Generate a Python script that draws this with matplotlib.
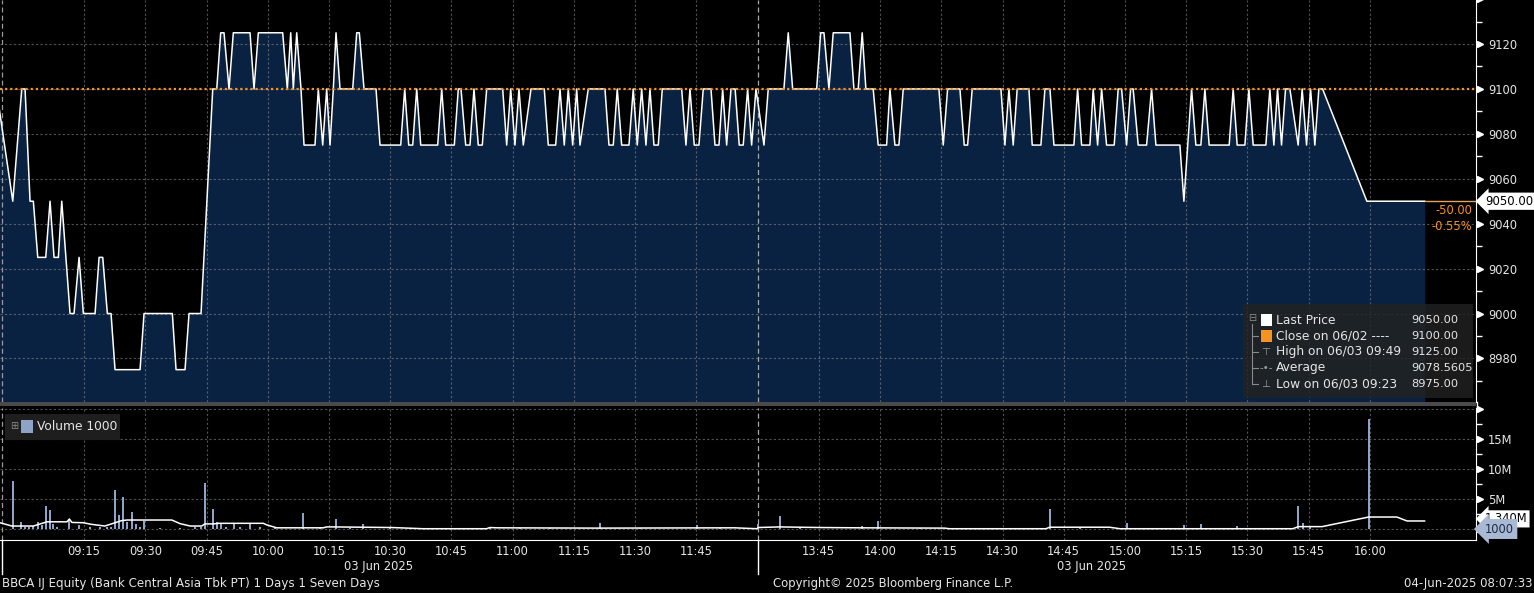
import numpy as np
import matplotlib.pyplot as plt
from matplotlib.ticker import FixedLocator, FixedFormatter, MultipleLocator, FuncFormatter
from matplotlib.transforms import blended_transform_factory
from matplotlib.patches import Rectangle
from matplotlib.lines import Line2D

# trades: minutes after 09:00 (morning) and after 13:30 (afternoon)
am_t = [-6.5, -2.47, -0.27, 0.54, 1.76, 2.57, 3.65, 5.61, 6.66, 7.64, 8.70, 9.53, 11.56, 12.54,
        13.77, 14.82, 17.69, 18.67, 19.57, 20.70, 21.60, 22.58, 28.71, 29.69, 36.62, 37.53,
        39.73, 40.71, 43.65, 46.52, 47.50, 48.47, 49.28, 50.51, 51.56, 55.65, 56.63, 57.69,
        63.66, 64.79, 65.62, 66.26, 67.09, 68.14, 68.88, 71.57, 72.38, 73.46, 74.44, 75.25,
        76.06, 76.72, 77.70, 80.81, 81.79, 82.43, 83.58, 86.52, 87.50, 92.57, 93.55, 94.53,
        95.51, 96.49, 97.47, 101.63, 102.61, 103.59, 105.70, 106.68, 107.34, 108.49, 109.54,
        110.52, 111.57, 112.55, 113.63, 117.55, 118.53, 119.51, 120.56, 121.54, 122.60,
        124.49, 127.74, 128.72, 130.53, 131.59, 132.64, 133.62, 134.70, 135.68, 136.49,
        138.52, 142.61, 143.59, 144.64, 145.62, 146.70, 148.49, 149.54, 150.52, 151.60,
        152.65, 153.63, 154.61, 155.67, 156.65, 161.40, 162.45, 163.43, 164.48, 165.63,
        166.69, 168.58, 169.56, 170.54, 171.44, 172.42, 173.48, 174.50, 175.50, 176.48,
        177.56, 178.54, 179.60]
am_price = [9100, 9050, 9100, 9100, 9050, 9050, 9025, 9025, 9050, 9025, 9025, 9050, 9000, 9000,
            9025, 9000, 9000, 9025, 9025, 9000, 9000, 8975, 8975, 9000, 9000, 8975,
            8975, 9000, 9000, 9100, 9100, 9125, 9125, 9100, 9125, 9125, 9100, 9125,
            9125, 9100, 9125, 9100, 9125, 9100, 9075, 9075, 9100, 9075, 9100, 9075,
            9100, 9125, 9100, 9100, 9125, 9125, 9100, 9100, 9075, 9075, 9100, 9075,
            9075, 9100, 9075, 9075, 9100, 9075, 9075, 9100, 9100, 9075, 9075,
            9100, 9075, 9075, 9100, 9100, 9075, 9100, 9075, 9100, 9075,
            9100, 9100, 9075, 9075, 9100, 9075, 9100, 9075, 9100, 9075,
            9100, 9100, 9075, 9075, 9100, 9075, 9075, 9100, 9075, 9100,
            9075, 9100, 9075, 9075, 9100, 9100, 9075, 9100, 9075, 9075,
            9100, 9100, 9075, 9075, 9100, 9075, 9100, 9100, 9075, 9075,
            9100, 9075, 9100]
pm_t = [1.56, 2.61, 6.45, 7.51, 8.59, 14.47, 15.45, 16.26, 17.48, 18.53, 22.62, 23.60, 24.65,
        25.63, 26.53, 28.32, 29.55, 31.61, 32.42, 33.64, 34.62, 35.68, 44.42, 45.48, 46.55,
        49.57, 50.62, 51.45, 52.58, 59.61, 60.59, 61.57, 62.62, 63.60, 66.47, 67.28, 69.41,
        70.39, 71.62, 72.60, 77.49, 78.40, 79.38, 81.41, 82.22, 83.30, 84.28, 85.50, 87.36,
        88.34, 89.17, 90.40, 91.38, 92.01, 93.24, 95.30, 96.52, 97.58, 103.46, 104.44,
        106.32, 107.37, 108.60, 109.58, 110.63, 115.53, 116.51, 117.49, 119.38, 120.36,
        121.41, 124.52, 125.50, 126.48, 127.38, 128.36, 129.34, 130.40, 132.43, 133.41,
        134.49, 135.47, 136.52, 137.50, 138.41, 149.26, 163.46]
pm_price = [9075, 9100, 9100, 9125, 9100, 9100, 9125, 9125, 9100, 9125, 9125, 9100, 9100,
            9125, 9100, 9100, 9075, 9075, 9100, 9075, 9075, 9100, 9100, 9075, 9100,
            9100, 9075, 9075, 9100, 9100, 9075, 9100, 9075, 9100, 9100, 9075, 9075,
            9100, 9100, 9075, 9075, 9100, 9075, 9075, 9100, 9075, 9100, 9075, 9075,
            9100, 9100, 9075, 9100, 9100, 9075, 9075, 9100, 9075, 9075, 9050,
            9100, 9075, 9075, 9100, 9075, 9075, 9100, 9075, 9075, 9100,
            9075, 9075, 9100, 9075, 9100, 9075, 9100, 9100, 9075, 9100,
            9075, 9100, 9075, 9100, 9100, 9050, 9050]

# volume bars (millions of shares)
am_vol_t = [-2.5, -0.5, 0.5, 1.5, 2.5, 3.6, 4.6, 5.6, 6.7, 7.5, 8.4, 11.4, 13.8, 16.5, 18.9,
            20.6, 21.6, 22.6, 23.6, 24.6, 25.6, 26.8, 27.7, 28.7, 29.7, 33.6, 38.5, 42.2, 43.6,
            44.6, 46.5, 47.5, 48.5, 49.8, 51.8, 53.2, 55.6, 58.1, 61.8, 68.6, 72.8, 76.6, 80.1,
            83.4, 89.9, 99.7, 107.1, 114.4, 121.8, 129.1, 141.4, 151.2, 165.1, 170.8]
am_vol = [8.0, 1.1, 0.4, 0.3, 0.5, 1.2, 0.6, 3.9, 3.2, 0.8, 0.3, 1.6, 0.7, 0.3, 0.3,
          0.4, 0.3, 6.5, 2.3, 5.3, 1.1, 2.8, 0.9, 0.4, 1.4, 0.2, 0.2, 0.3, 0.4,
          7.6, 3.4, 1.2, 0.9, 0.4, 0.8, 0.4, 0.8, 0.3, 0.2, 2.7, 0.3, 1.7, 0.2,
          0.8, 0.2, 0.2, 0.2, 0.2, 0.2, 0.2, 1.0, 0.2, 0.6, 0.2]
pm_vol_t = [0.2, 5.4, 10.4, 25.6, 29.5, 39.8, 54.5, 71.6, 78.9, 90.5, 98.6, 104.4, 108.6,
            117.4, 123.1, 132.5, 133.5, 135.3, 149.7]
pm_vol = [0.8, 2.2, 0.3, 0.5, 1.4, 0.2, 0.2, 3.4, 0.2, 1.0, 0.2, 0.6, 0.8,
          0.5, 0.2, 3.8, 1.0, 0.3, 18.4]

# average volume line
am_avg_t = [-5.6, -2.7, 2.6, 5.9, 10.8, 11.4, 12.0, 14.8, 16.6, 20.1, 22.6, 24.2, 25.5, 36.5,
            38.5, 41.0, 43.8, 44.6, 46.7, 47.9, 58.9, 59.7, 62.2, 73.6, 74.4, 76.1, 90.4,
            98.1, 113.6, 114.4, 116.1, 141.4, 174.4, 179.8]
am_avg = [1.05, 0.5, 0.5, 1.2, 1.2, 1.67, 1.1, 1.05, 0.8, 0.5, 1.05, 1.4, 1.5, 1.5,
          0.9, 0.5, 0.5, 0.85, 0.85, 0.95, 0.95, 0.7, 0.2, 0.2, 0.35, 0.35, 0.25,
          0.05, 0.05, 0.25, 0.2, 0.15, 0.2, 0.05]
pm_avg_t = [0.2, 5.4, 15.2, 25.0, 45.8, 47.0, 70.6, 71.6, 86.2, 88.8, 131.1, 132.5, 138.3,
            149.7, 156.6, 159.1, 163.4]
pm_avg = [0.25, 0.35, 0.25, 0.2, 0.15, 0.05, 0.05, 0.3, 0.3, 0.05, 0.05, 0.4, 0.4,
          2.0, 2.0, 1.34, 1.34]

am_labels = ["09:15", "09:30", "09:45", "10:00", "10:15", "10:30", "10:45", "11:00",
             "11:15", "11:30", "11:45"]
pm_labels = ["13:45", "14:00", "14:15", "14:30", "14:45", "15:00", "15:15", "15:30",
             "15:45", "16:00"]
price_ticks = [8980, 9000, 9020, 9040, 9060, 9080, 9100, 9120, 9140]
vol_ticks = [0, 5, 10, 15, 20]

prev_close = 9100
last_price = 9050
legend_names = ["Last Price", "Close on 06/02 ----", "High on 06/03 09:49", "Average",
                "Low on 06/03 09:23"]
legend_values = ["9050.00", "9100.00", "9125.00", "9078.5605", "8975.00"]

NAVY = "#0a2242"
ORANGE = "#f7931e"
TXT = "#e6e6e6"
VOLC = "#8ea3c7"
AM_LEN = 180  # morning session length, afternoon starts right after


def to_x(hhmm):
    h, m = map(int, hhmm.split(":"))
    mins = h * 60 + m
    return mins - 540 if mins <= 720 else mins - 810 + AM_LEN


def fx(px):
    return px / 1534


def fy(py):
    return 1 - py / 593


x_price = np.array(am_t + [AM_LEN + t for t in pm_t])
y_price = np.array(am_price + pm_price)
x_vol = np.array(am_vol_t + [AM_LEN + t for t in pm_vol_t])
y_vol = np.array(am_vol + pm_vol)
x_avg = np.array(am_avg_t + [AM_LEN + t for t in pm_avg_t])
y_avg = np.array(am_avg + pm_avg)
xlabels = am_labels + pm_labels
xticks = [to_x(s) for s in xlabels]
x0, x1 = -5.6, 356
start_line = -5.1

fig = plt.figure(figsize=(15.34, 5.93), dpi=100, facecolor="black")
ax1 = fig.add_axes([0, fy(402), fx(1476), 402 / 593])
ax2 = fig.add_axes([0, fy(540), fx(1476), 132 / 593])

for ax in (ax1, ax2):
    ax.set_facecolor("black")
    ax.set_xlim(x0, x1)
    for s in ("top", "left", "bottom"):
        ax.spines[s].set_visible(False)
    ax.spines["right"].set_color("white")
    ax.xaxis.set_major_locator(FixedLocator(xticks))
    ax.xaxis.set_major_formatter(FixedFormatter(xlabels))
    ax.yaxis.tick_right()
    ax.tick_params(axis="x", length=0)
    ax.tick_params(axis="y", which="major", length=0, labelcolor=TXT, labelsize=8.3, pad=8.5)
    ax.tick_params(axis="y", which="minor", length=4, color="white", width=1, right=True, left=False)
    ax.set_axisbelow("line")
    ax.grid(True, color="#8a8a8a", ls=(0, (2, 2)), lw=0.8, alpha=0.6)
    ax.axvline(start_line, color="#9a9a9a", ls=(0, (4, 2.5)), lw=0.9, zorder=2)
    ax.axvline(AM_LEN, color="#a8a8a8", ls=(0, (4, 2.5)), lw=0.9, zorder=2)

# --- price panel
ax1.set_ylim(8960.6, 9139.6)
ax1.yaxis.set_major_locator(FixedLocator(price_ticks))
ax1.yaxis.set_minor_locator(MultipleLocator(10))
ax1.tick_params(axis="x", labelbottom=False)
ax1.fill_between(x_price, y_price, 8900, color=NAVY, lw=0, zorder=1)
ax1.plot(x_price, y_price, color="white", lw=1.1, zorder=3)
ax1.axhline(prev_close, color=ORANGE, ls=(0, (1, 1.3)), lw=1.6, zorder=4)
ax1.hlines(last_price, x_price[-1], x1, color="#e8a25a", lw=1, zorder=4)
tr1 = blended_transform_factory(ax1.transAxes, ax1.transData)
ax1.plot([1.0027] * len(price_ticks), price_ticks, transform=tr1, ls="none", marker=">",
         ms=5, color="white", clip_on=False)
ax1.text(1.006, last_price, f"{last_price:.2f}", transform=tr1, ha="left", va="center",
         fontsize=8.5, color="black",
         bbox=dict(boxstyle="larrow,pad=0.18", fc="white", ec="none"))
chg = last_price - prev_close
fig.text(fx(1472), fy(210), f"{chg:.2f}", ha="right", va="center", fontsize=8.3, color=ORANGE)
fig.text(fx(1472), fy(226), f"{chg / prev_close * 100:.2f}%", ha="right", va="center",
         fontsize=8.3, color=ORANGE)

# legend box
fig.add_artist(Rectangle((fx(1243), fy(398)), 230 / 1534, 94 / 593, transform=fig.transFigure,
                         fc="#222222", ec="none", alpha=0.82, zorder=5))
rows_y = [320, 336, 352, 368, 384]
fig.add_artist(Line2D([fx(1252), fx(1252)], [fy(324), fy(384)], transform=fig.transFigure,
                      color="#8a8a8a", lw=0.8, zorder=6))
for ry in rows_y[1:]:
    fig.add_artist(Line2D([fx(1252), fx(1258)], [fy(ry), fy(ry)], transform=fig.transFigure,
                          color="#8a8a8a", lw=0.8, zorder=6))
fig.text(fx(1252), fy(318), "\u229f", ha="center", va="center", fontsize=7, color="#8a8a8a", zorder=7)
for ry, col in zip(rows_y[:2], ["white", ORANGE]):
    fig.add_artist(Rectangle((fx(1261), fy(ry + 6)), 11 / 1534, 12 / 593,
                             transform=fig.transFigure, fc=col, ec="none", zorder=7))
for ry, glyph in zip(rows_y[2:], ["\u22a4", "-\u2022-", "\u22a5"]):
    fig.text(fx(1266), fy(ry), glyph, ha="center", va="center", fontsize=7.5,
             color="#9a9a9a", zorder=7)
for ry, name, val in zip(rows_y, legend_names, legend_values):
    fig.text(fx(1276), fy(ry), name, ha="left", va="center", fontsize=8.8, color=TXT, zorder=7)
    fig.text(fx(1411), fy(ry), val, ha="left", va="center", fontsize=8.2, color=TXT, zorder=7)

# --- volume panel
ax2.set_ylim(-1.83, 20.17)
ax2.yaxis.set_major_locator(FixedLocator(vol_ticks))
ax2.yaxis.set_minor_locator(FixedLocator([2.5, 7.5, 12.5, 17.5]))
ax2.yaxis.set_major_formatter(FuncFormatter(lambda v, p: "" if v in (0, 20) else f"{v:g}M"))
ax2.spines["bottom"].set_visible(True)
ax2.spines["bottom"].set_color("white")
ax2.tick_params(axis="x", labelcolor=TXT, labelsize=8.3, pad=3.5)
ax2.bar(x_vol, y_vol, width=0.5, color=VOLC, lw=0, zorder=2)
ax2.plot(x_avg, y_avg, color="white", lw=1.1, zorder=3)
tr2 = blended_transform_factory(ax2.transAxes, ax2.transData)
ax2.plot([1.0027] * len(vol_ticks), vol_ticks, transform=tr2, ls="none", marker=">",
         ms=5, color="white", clip_on=False)
ax2.text(1.006, y_avg[-1] + 0.35, f"{y_avg[-1]:.3f}M", transform=tr2, ha="left", va="center",
         fontsize=8.3, color="black", zorder=5,
         bbox=dict(boxstyle="larrow,pad=0.18", fc="white", ec="none"))
ax2.text(1.006, 0.001, "1000", transform=tr2, ha="left", va="center", fontsize=8.3,
         color="#1b2a44", zorder=6,
         bbox=dict(boxstyle="larrow,pad=0.3", fc="#a9b9d4", ec="none"))
trx = blended_transform_factory(ax2.transData, ax2.transAxes)
for xv in (start_line, AM_LEN):
    ax2.plot([xv, xv], [0, -0.26], transform=trx, color="white", lw=1, clip_on=False)
ax2.text((x0 + AM_LEN) / 2, -0.2, "03 Jun 2025", transform=trx, ha="center", va="center",
         fontsize=8.3, color=TXT)
ax2.text(AM_LEN + pm_t[-1] / 2, -0.2, "03 Jun 2025", transform=trx, ha="center", va="center",
         fontsize=8.3, color=TXT)

# volume legend
fig.add_artist(Rectangle((fx(5), fy(440)), 115 / 1534, 26 / 593, transform=fig.transFigure,
                         fc="#1e1e1e", ec="none", zorder=5))
fig.text(fx(14), fy(426), "\u229e", ha="center", va="center", fontsize=7, color="#8a8a8a", zorder=6)
fig.add_artist(Rectangle((fx(21), fy(433)), 12 / 1534, 13 / 593, transform=fig.transFigure,
                         fc=VOLC, ec="none", zorder=6))
fig.text(fx(37), fy(427), "Volume 1000", ha="left", va="center", fontsize=8.8, color=TXT, zorder=6)

# panel separator
fig.add_artist(Rectangle((0, fy(406)), fx(1476), 4 / 593, transform=fig.transFigure,
                         fc="#4a4a4a", ec="none"))
fig.add_artist(Line2D([fx(1476.5), fx(1476.5)], [fy(402), fy(408)], transform=fig.transFigure,
                      color="white", lw=1))

# footer
fig.text(fx(2), fy(584), "BBCA IJ Equity (Bank Central Asia Tbk PT) 1 Days 1 Seven Days",
         ha="left", va="center", fontsize=8.6, color=TXT)
fig.text(fx(773), fy(584), "Copyright\u00a9 2025 Bloomberg Finance L.P.", ha="left",
         va="center", fontsize=8.4, color=TXT)
fig.text(fx(1532), fy(584), "04-Jun-2025 08:07:33", ha="right", va="center", fontsize=8.5,
         color=TXT)

fig.savefig("out.png", dpi=100, facecolor="black")
